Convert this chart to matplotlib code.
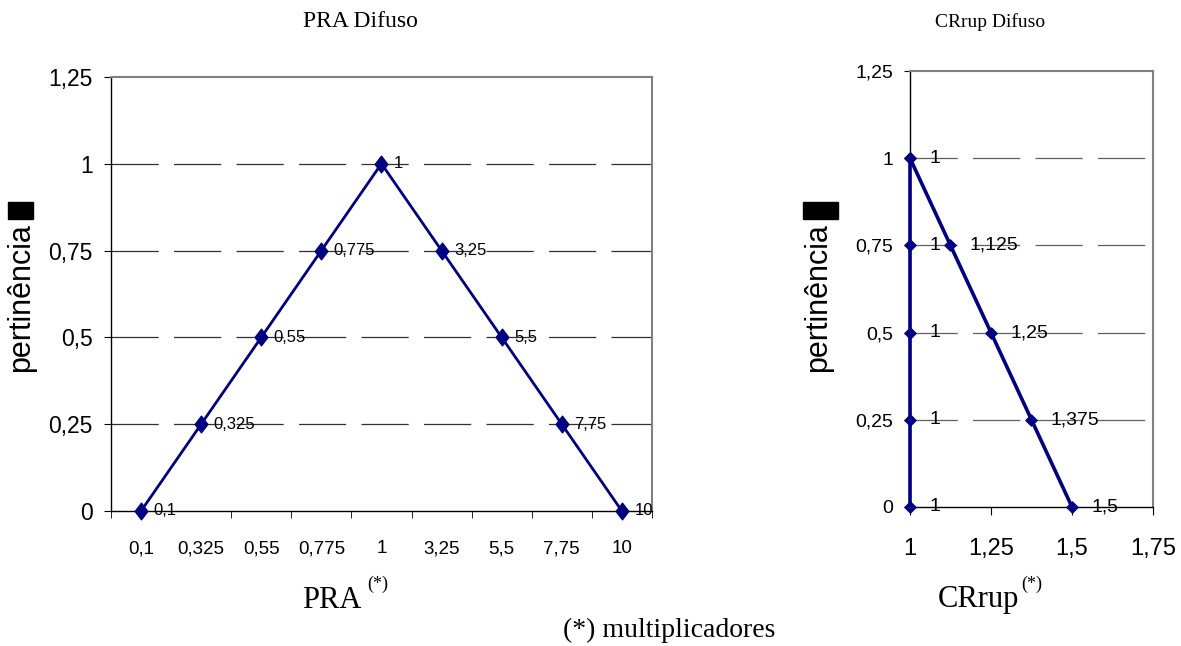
import numpy as np
import matplotlib.pyplot as plt
from matplotlib.path import Path
from matplotlib.patches import Rectangle
from matplotlib.ticker import FixedLocator

plt.rcParams['lines.scale_dashes'] = False

# dados - PRA difuso (eixo de categorias)
pra_cats = ["0,1", "0,325", "0,55", "0,775", "1", "3,25", "5,5", "7,75", "10"]
pra_mu = [0, 0.25, 0.5, 0.75, 1, 0.75, 0.5, 0.25, 0]

# dados - CRrup difuso
cr_x1 = [1, 1, 1, 1, 1]
cr_y1 = [0, 0.25, 0.5, 0.75, 1]
cr_x2 = [1, 1.125, 1.25, 1.375, 1.5]
cr_y2 = [1, 0.75, 0.5, 0.25, 0]
cr_lab1 = ["1", "1", "1", "1", "1"]
cr_lab2 = ["1", "1,125", "1,25", "1,375", "1,5"]

y_ticks = [0, 0.25, 0.5, 0.75, 1, 1.25]
y_ticklabels = ["0", "0,25", "0,5", "0,75", "1", "1,25"]
cr_xticks = [1, 1.25, 1.5, 1.75]
cr_xticklabels = ["1", "1,25", "1,5", "1,75"]

navy = '#000080'
sans = ['Liberation Sans', 'DejaVu Sans']
serif = ['Liberation Serif', 'DejaVu Serif']

tall_diamond = Path([(0, 1), (0.76, 0), (0, -1), (-0.76, 0), (0, 1)], closed=True)
diamond = Path([(0, 1), (1, 0), (0, -1), (-1, 0), (0, 1)], closed=True)

W, H = 1181, 646
fig = plt.figure(figsize=(W / 100, H / 100), dpi=100)
ax1 = fig.add_axes([0.094, 0.209, 0.458, 0.672])
ax2 = fig.add_axes([0.7705, 0.2152, 0.2058, 0.675])


def estilo(ax, gridcolor):
    for s in ['top', 'right']:
        ax.spines[s].set_color('#808080')
        ax.spines[s].set_linewidth(1.5)
    for s in ['left', 'bottom']:
        ax.spines[s].set_color('black')
        ax.spines[s].set_linewidth(1.0)
    ax.set_ylim(0, 1.25)
    ax.set_yticks(y_ticks)
    ax.set_yticklabels(y_ticklabels)
    for y in y_ticks[1:-1]:
        ax.axhline(y, color=gridcolor, lw=0.9, dashes=(34, 11), zorder=1)


# --- PRA ---
estilo(ax1, '#303030')
xs = np.arange(len(pra_cats))
ax1.plot(xs, pra_mu, color=navy, lw=2.0, marker=tall_diamond, ms=12,
         mfc=navy, mec=navy, zorder=3, clip_on=False)
for x, y, t in zip(xs, pra_mu, pra_cats):
    ax1.annotate(t, (x, y), xytext=(9, 0), textcoords='offset points',
                 ha='left', va='center', fontsize=12, family=sans, zorder=4)
ax1.set_xlim(-0.5, len(pra_cats) - 0.5)
ax1.set_xticks(xs)
ax1.set_xticklabels(pra_cats, family=sans, fontsize=13.5)
bounds = [-0.5] + list(np.arange(1.5, len(pra_cats), 1.0))
ax1.xaxis.set_minor_locator(FixedLocator(bounds))
ax1.tick_params(axis='x', which='major', length=0, pad=21)
ax1.tick_params(axis='x', which='minor', length=5, direction='out', color='black')
ax1.tick_params(axis='y', length=5, pad=8, labelsize=16.5)
for lb in ax1.get_yticklabels():
    lb.set_family(sans)

# --- CRrup ---
estilo(ax2, '#606060')
ax2.plot(cr_x1, cr_y1, color=navy, lw=2.6, marker=diamond, ms=8,
         mfc=navy, mec=navy, zorder=3, clip_on=False)
ax2.plot(cr_x2, cr_y2, color=navy, lw=2.6, marker=diamond, ms=8,
         mfc=navy, mec=navy, zorder=3, clip_on=False)
for x, y, t in zip(cr_x1, cr_y1, cr_lab1):
    ax2.annotate(t, (x, y), xytext=(14, 0), textcoords='offset points',
                 ha='left', va='center', fontsize=14, family=sans, zorder=4)
for x, y, t in zip(cr_x2, cr_y2, cr_lab2):
    if x == 1:
        continue
    ax2.annotate(t, (x, y), xytext=(14, 0), textcoords='offset points',
                 ha='left', va='center', fontsize=14, family=sans, zorder=4)
ax2.set_xlim(1, 1.75)
ax2.set_xticks(cr_xticks)
ax2.set_xticklabels(cr_xticklabels, family=sans, fontsize=17)
ax2.tick_params(axis='x', length=6, pad=16)
ax2.tick_params(axis='y', length=4, pad=8, labelsize=14)
for lb in ax2.get_yticklabels():
    lb.set_family(sans)

# textos
fig.text(0.305, 0.966, "PRA Difuso", ha='center', va='center', fontsize=17, family=serif)
fig.text(0.838, 0.966, "CRrup Difuso", ha='center', va='center', fontsize=14, family=serif)
fig.text(302 / W, 1 - 600 / H, "PRA", ha='left', va='center', fontsize=22, family=serif)
fig.text(367 / W, 1 - 584 / H, "(*)", ha='left', va='center', fontsize=13, family=serif)
fig.text(938 / W, 1 - 600 / H, "CRrup", ha='left', va='center', fontsize=22, family=serif)
fig.text(1021 / W, 1 - 584 / H, "(*)", ha='left', va='center', fontsize=13, family=serif)
fig.text(669 / W, 1 - 630 / H, "(*) multiplicadores", ha='center', va='center',
         fontsize=20, family=serif)

# rótulo do eixo y (com o caractere não reconhecido, desenhado como bloco preto)
fig.text(21 / W, 1 - 298 / H, "pertinência", rotation=90, ha='center', va='center',
         fontsize=22, family=sans)
fig.text(818 / W, 1 - 298 / H, "pertinência", rotation=90, ha='center', va='center',
         fontsize=22, family=sans)
fig.patches.append(Rectangle((8 / W, 1 - 219 / H), 25 / W, 17 / H,
                             transform=fig.transFigure, color='black'))
fig.patches.append(Rectangle((803 / W, 1 - 219 / H), 35 / W, 17 / H,
                             transform=fig.transFigure, color='black'))

fig.savefig('out.png', dpi=100)
